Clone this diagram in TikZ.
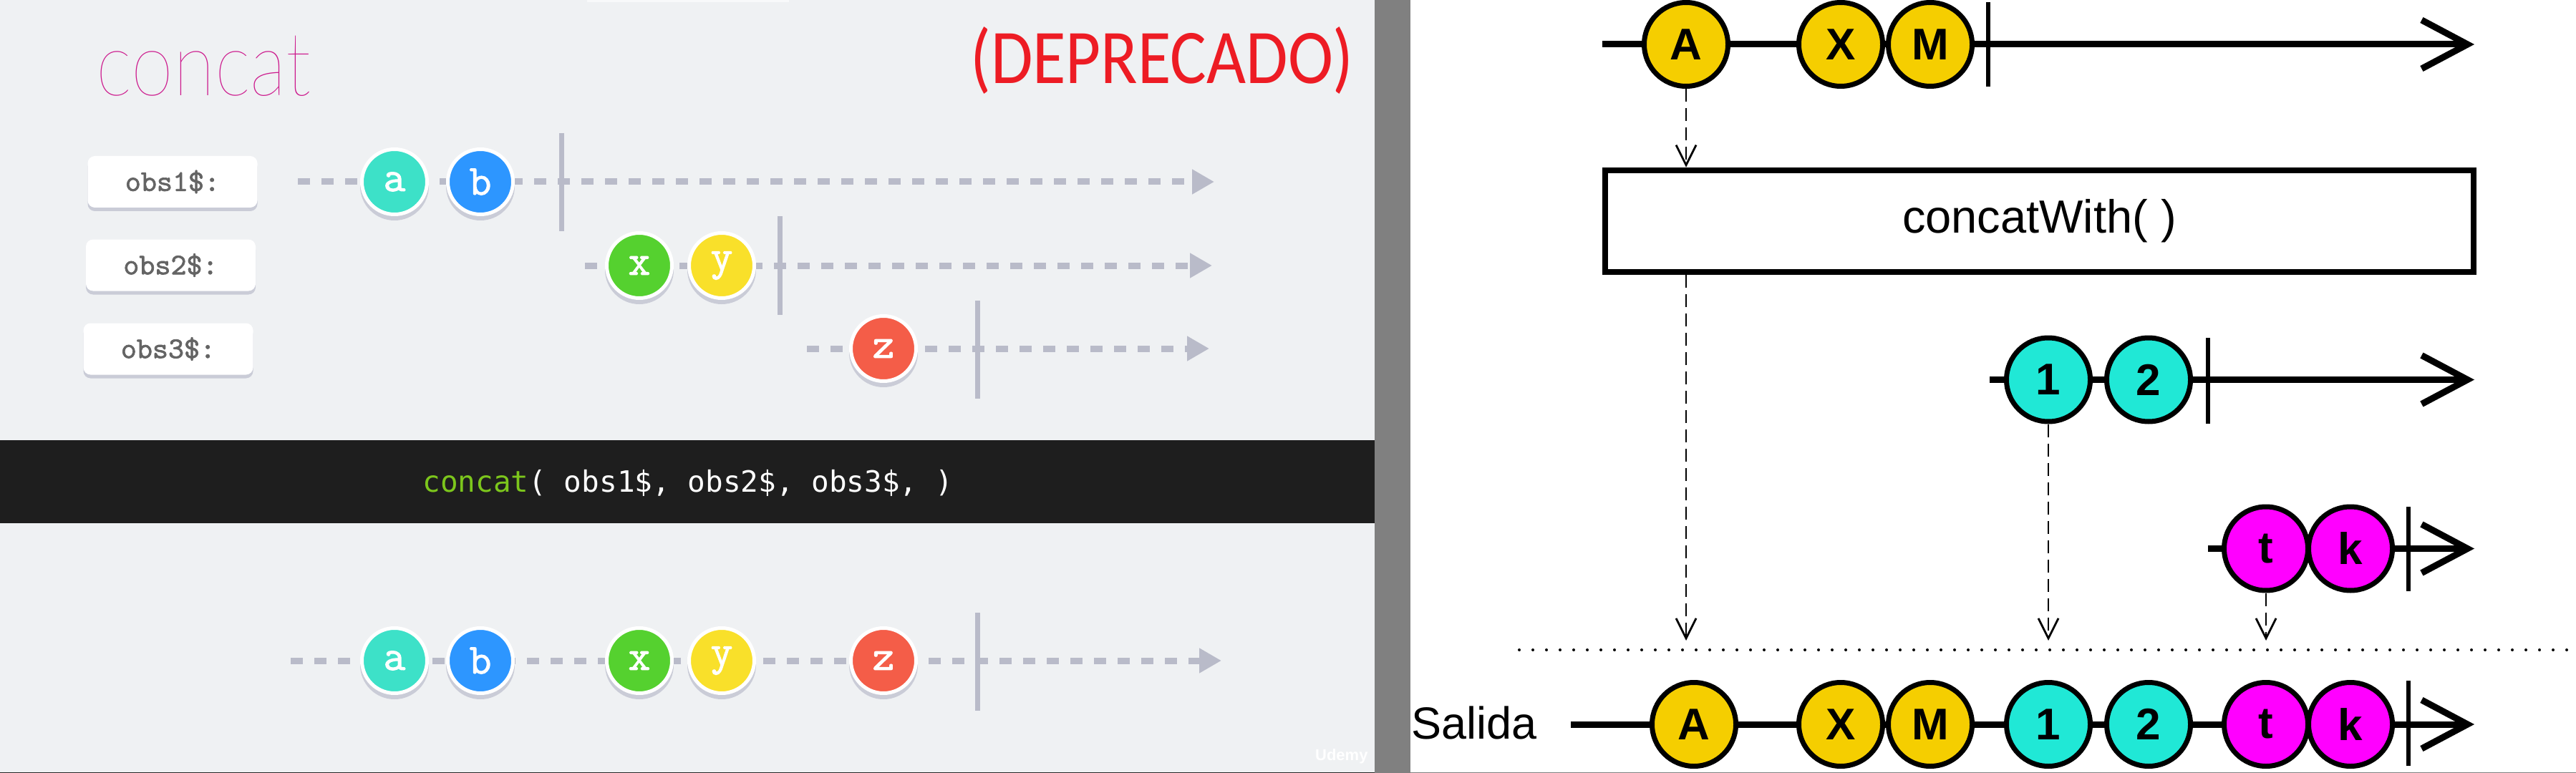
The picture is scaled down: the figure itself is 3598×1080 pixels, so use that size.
\documentclass[tikz,border=0pt]{standalone}
\usepackage{fontspec}
\setmainfont{Liberation Sans}
\IfFontExistsTF{Lato Thin}{\newfontfamily\titlefont{Lato Thin}}{%
  \IfFontExistsTF{Lato Light}{\newfontfamily\titlefont{Lato Light}}{\newfontfamily\titlefont{Lato}}}
\newfontfamily\deprfont{Carlito}
\newfontfamily\codefont{DejaVu Sans Mono}
\newfontfamily\slabfont{Latin Modern Mono}[FakeBold=1.6]
\usetikzlibrary{arrows.meta}

\definecolor{slidebg}{RGB}{239,241,243}
\definecolor{codeband}{RGB}{30,30,30}
\definecolor{splitgray}{RGB}{128,128,128}
\definecolor{streamgray}{RGB}{185,187,201}
\definecolor{shadegray}{RGB}{202,204,215}
\definecolor{labelink}{RGB}{100,100,100}
\definecolor{titlepink}{RGB}{204,24,140}
\definecolor{deprred}{RGB}{237,28,36}
\definecolor{codegreen}{RGB}{124,198,28}
\definecolor{pa}{RGB}{61,225,200}
\definecolor{pb}{RGB}{45,150,255}
\definecolor{px}{RGB}{85,209,47}
\definecolor{py}{RGB}{249,224,42}
\definecolor{pz}{RGB}{244,93,72}
\definecolor{myellow}{RGB}{245,206,0}
\definecolor{mcyan}{RGB}{32,232,214}
\definecolor{mmagenta}{RGB}{255,0,255}

\tikzset{every picture/.style={line width=0.75pt}}
\tikzset{
  obslabel/.style={fill=white, rounded corners=2.5pt, minimum width=59.25pt, minimum height=18pt,
    inner sep=0pt, text=labelink, font=\slabfont\bfseries\fontsize{10.5}{12}\selectfont,
    preaction={fill=shadegray, transform canvas={yshift=-1.25pt}}},
  pebble/.style={circle, fill=#1, draw=white, line width=1.25pt, minimum size=22.75pt, inner sep=0pt,
    text=white, font=\slabfont\bfseries\fontsize{15}{16}\selectfont,
    preaction={fill=shadegray, draw=shadegray, transform canvas={yshift=-1.5pt}}},
  pstream/.style={draw=streamgray, line width=2.25pt, dash pattern=on 4.25pt off 4pt,
    -{Triangle[length=7.75pt,width=8.25pt]}},
  pend/.style={draw=streamgray, line width=1.75pt},
  marble/.style={circle, fill=#1, draw=black, line width=1.75pt, minimum size=29.25pt, inner sep=0pt,
    font=\bfseries\fontsize{15.5}{18}\selectfont},
  tline/.style={line width=2.25pt, -{Straight Barb[length=16pt,width=17pt]}},
  tend/.style={line width=1.5pt},
  flow/.style={line width=0.7pt, dash pattern=on 4.5pt off 2.25pt, -{Straight Barb[length=7pt,width=7pt]}},
  sepdots/.style={line width=1pt, line cap=round, dash pattern=on 0pt off 4.75pt}
}

\begin{document}
\begin{tikzpicture}[x=0.25pt,y=0.25pt,yscale=-1,xscale=1]
        \useasboundingbox (0,0) rectangle (3598,1080);

        %Background panels
        \fill[slidebg] (0,0) rectangle (1920,1080);
        \fill[white] (1970,0) rectangle (3598,1080);
        \fill[splitgray] (1920,0) rectangle (1970,1080);
        \fill[white, opacity=0.6] (820,0) rectangle (1102,3);
        \fill[codeband] (0,615) rectangle (1920,731);
        \draw[line width=0.25pt, black!85] (0,1079.5) -- (1920,1079.5);
        \draw[line width=0.25pt, splitgray] (1970,1079.5) -- (3598,1079.5);

        % Text Node
        \node[anchor=base west, inner sep=0pt, text=titlepink, font=\titlefont\fontsize{31}{34}\selectfont] (title) at (133,134) {\scalebox{0.86}[1]{concat}};
        % Text Node
        \node[anchor=base, inner sep=0pt, text=deprred, font=\deprfont\fontsize{27}{30}\selectfont] (depr) at (1623,117) {\scalebox{0.88}[1]{(DEPRECADO)}};

        %Label boxes
        \node[obslabel] (lab1) at (241,254) {obs1\$:};
        \node[obslabel] (lab2) at (238.5,370.5) {obs2\$:};
        \node[obslabel] (lab3) at (235,487.5) {obs3\$:};

        %Source streams
        \coordinate (s1) at (416,254);  \coordinate (e1) at (1696,254);
        \coordinate (s2) at (817,371);  \coordinate (e2) at (1693,371);
        \coordinate (s3) at (1127,487); \coordinate (e3) at (1689,487);
        \coordinate (s4) at (406,923);  \coordinate (e4) at (1706,923);
        \draw[pstream] (s1) -- (e1);
        \draw[pstream] (s2) -- (e2);
        \draw[pstream] (s3) -- (e3);
        \draw[pstream] (s4) -- (e4);

        \draw[pend] (784,186) -- (784,323);
        \draw[pend] (1089,302) -- (1089,440);
        \draw[pend] (1365,420) -- (1365,557);
        \draw[pend] (1365,856) -- (1365,993);

        \node[pebble=pa] (a1) at (551,254) {a};
        \node[pebble=pb] (b1) at (671,254) {b};
        \node[pebble=px] (x2) at (893,371) {x};
        \node[pebble=py] (y2) at (1008,371) {y};
        \node[pebble=pz] (z3) at (1234,487) {z};

        % Text Node
        \node[anchor=base west, inner sep=0pt, font=\codefont\fontsize{10.25}{12}\selectfont, text=white] (code) at (589,687) {\textcolor{codegreen}{concat}( obs1\$, obs2\$, obs3\$, )};

        \node[pebble=pa] (ra) at (551,923) {a};
        \node[pebble=pb] (rb) at (671,923) {b};
        \node[pebble=px] (rx) at (893,923) {x};
        \node[pebble=py] (ry) at (1008,923) {y};
        \node[pebble=pz] (rz) at (1234,923) {z};

        % Text Node
        \node[anchor=east, inner sep=0pt, text=white, font=\bfseries\fontsize{5.5}{6}\selectfont] (udemy) at (1912,1057) {Udemy};

        %Right diagram: first source
        \coordinate (t1) at (2238,62);  \coordinate (u1) at (3456,62);
        \draw[tline] (t1) -- (u1);
        \draw[tend] (2777,3) -- (2777,121);
        \node[marble=myellow] (tA) at (2355,62) {A};
        \node[marble=myellow] (tX) at (2571,62) {X};
        \node[marble=myellow] (tM) at (2696,62) {M};

        %Operator box
        \node[draw, line width=2.125pt, minimum width=303.25pt, minimum height=35.5pt, inner sep=0pt, font=\fontsize{16.25}{19}\selectfont] (cbox) at (2848.5,309) {concatWith( )};

        %Second source
        \coordinate (t2) at (2779,530.5); \coordinate (u2) at (3456,530.5);
        \draw[tline] (t2) -- (u2);
        \draw[tend] (3084,472) -- (3084,592);
        \node[marble=mcyan] (t1n) at (2861,530.5) {1};
        \node[marble=mcyan] (t2n) at (3001,530.5) {2};

        %Third source
        \coordinate (t3) at (3084,766.5); \coordinate (u3) at (3456,766.5);
        \draw[tline] (t3) -- (u3);
        \draw[tend] (3364,708) -- (3364,826);
        \node[marble=mmagenta] (tt) at (3165,766.5) {t};
        \node[marble=mmagenta] (tk) at (3283,766.5) {k};

        %Separator
        \coordinate (sepL) at (2122,908); \coordinate (sepR) at (3598,908);
        \draw[sepdots] (sepL) -- (sepR);
        \coordinate (drop) at (2122,895);

        %Dashed drops
        \draw[flow] (tA) -- (tA |- cbox.north);
        \draw[flow] (cbox.south -| tA) -- (tA |- drop);
        \draw[flow] (t1n) -- (t1n |- drop);
        \draw[flow] (tt) -- (tt |- drop);

        %Output
        \node[anchor=base west, inner sep=0pt, font=\fontsize{15.75}{18}\selectfont] (salida) at (1970,1032) {Salida};
        \coordinate (t4) at (2194,1012); \coordinate (u4) at (3456,1012);
        \draw[tline] (t4) -- (u4);
        \draw[tend] (3364,951) -- (3364,1070);
        \node[marble=myellow] (oA) at (2366,1012) {A};
        \node[marble=myellow] (oX) at (2571,1012) {X};
        \node[marble=myellow] (oM) at (2696,1012) {M};
        \node[marble=mcyan] (o1) at (2861,1012) {1};
        \node[marble=mcyan] (o2) at (3001,1012) {2};
        \node[marble=mmagenta] (ot) at (3165,1012) {t};
        \node[marble=mmagenta] (ok) at (3283,1012) {k};

    \end{tikzpicture}
\end{document}
